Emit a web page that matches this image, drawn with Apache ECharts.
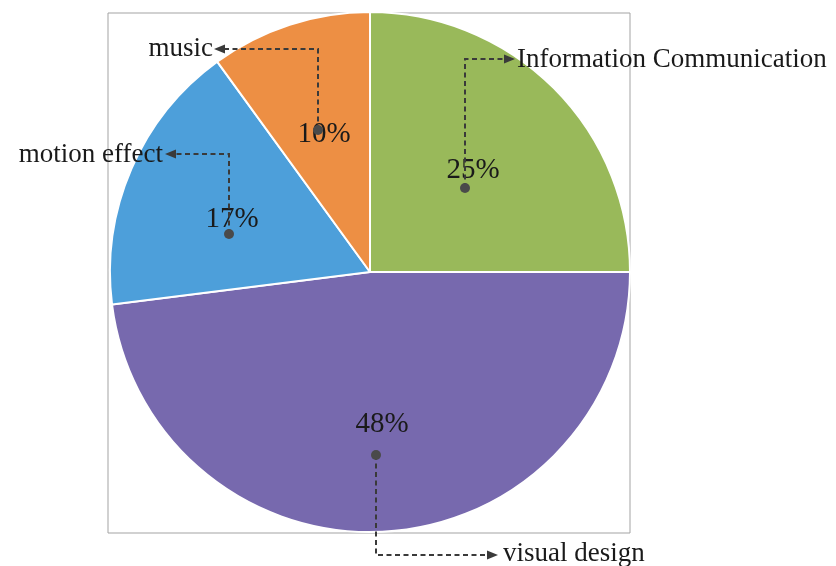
<!DOCTYPE html>
<html>
<head>
<meta charset="utf-8">
<script src="https://cdn.jsdelivr.net/npm/echarts@6/dist/echarts.min.js"></script>
<style>
  html, body { margin: 0; padding: 0; background: #fff; }
  #chart { width: 836px; height: 566px; }
</style>
</head>
<body>
<div id="chart"></div>
<script>
// Share of design elements (percent), clockwise from 12 o'clock
const categories = ['Information Communication', 'visual design', 'motion effect', 'music'];
const shares = [25, 48, 17, 10];
const sliceColors = ['#99b95a', '#7769ae', '#4d9fda', '#ed8f44'];

// Callout layout: dot inside slice -> elbow -> arrow tip -> name label
const callouts = [
  { dot: [465, 188], elbow: [465, 59], tip: [515, 59], dir: 'right', label: [517, 60], pct: [473, 170] },
  { dot: [376, 455], elbow: [376, 555], tip: [498, 555], dir: 'right', label: [503, 554], pct: [382, 424] },
  { dot: [229, 234], elbow: [229, 154], tip: [165, 154], dir: 'left', label: [163, 155], pct: [232, 219] },
  { dot: [318, 130], elbow: [318, 49], tip: [214, 49], dir: 'left', label: [213, 49], pct: [324, 134] }
];

const FONT = '"Liberation Serif", "Times New Roman", serif';
const INK = '#3a3a3a';
const graphics = [];

// chart frame
graphics.push({
  type: 'rect', z: 0,
  shape: { x: 108, y: 13, width: 522, height: 520 },
  style: { fill: 'none', stroke: '#a3a3a3', lineWidth: 1 }
});

callouts.forEach(function (c, i) {
  const sign = c.dir === 'right' ? 1 : -1;
  const base = [c.tip[0] - sign * 11, c.tip[1]];
  // percentage text
  graphics.push({
    type: 'text', z: 100,
    style: {
      x: c.pct[0], y: c.pct[1], text: shares[i] + '%',
      font: '29px ' + FONT, fill: '#1a1a1a',
      textAlign: 'center', textVerticalAlign: 'middle'
    }
  });
  // dashed leader
  graphics.push({
    type: 'polyline', z: 101,
    shape: { points: [c.dot, c.elbow, base] },
    style: { stroke: INK, lineWidth: 2, lineDash: [5, 3.5], fill: 'none' }
  });
  // arrow head
  graphics.push({
    type: 'polygon', z: 101,
    shape: { points: [c.tip, [base[0], base[1] - 4.5], [base[0], base[1] + 4.5]] },
    style: { fill: INK }
  });
  // anchor dot
  graphics.push({
    type: 'circle', z: 102,
    shape: { cx: c.dot[0], cy: c.dot[1], r: 5 },
    style: { fill: '#4a4a4a' }
  });
  // category name
  graphics.push({
    type: 'text', z: 100,
    style: {
      x: c.label[0], y: c.label[1], text: categories[i],
      font: '27px ' + FONT, fill: '#1a1a1a',
      textAlign: c.dir === 'right' ? 'left' : 'right', textVerticalAlign: 'middle'
    }
  });
});

const chart = echarts.init(document.getElementById('chart'), null, { renderer: 'canvas' });
chart.setOption({
  backgroundColor: '#ffffff',
  animation: false,
  series: [{
    type: 'pie',
    z: 2,
    center: [370, 272],
    radius: 260,
    startAngle: 90,
    clockwise: true,
    label: { show: false },
    labelLine: { show: false },
    itemStyle: { borderColor: '#ffffff', borderWidth: 2 },
    emphasis: { disabled: true },
    data: categories.map(function (name, i) {
      return { name: name, value: shares[i], itemStyle: { color: sliceColors[i] } };
    })
  }],
  graphic: graphics
});
</script>
</body>
</html>
